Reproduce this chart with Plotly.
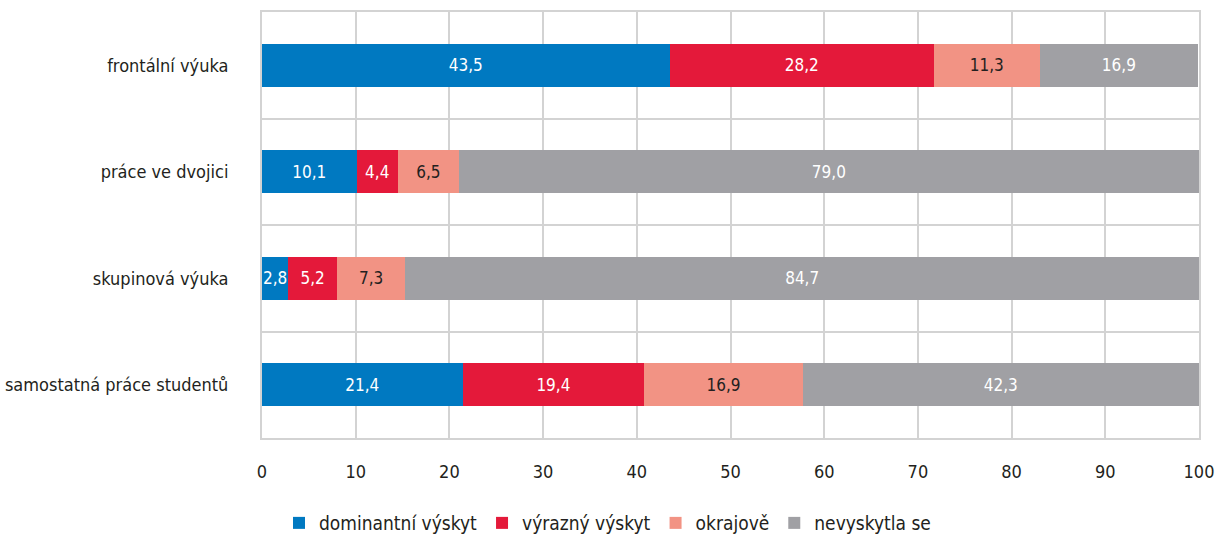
import plotly.graph_objects as go

categories = ["frontální výuka", "práce ve dvojici", "skupinová výuka", "samostatná práce studentů"]
series_names = ["dominantní výskyt", "výrazný výskyt", "okrajově", "nevyskytla se"]
dominantni = [43.5, 10.1, 2.8, 21.4]
vyrazny = [28.2, 4.4, 5.2, 19.4]
okrajove = [11.3, 6.5, 7.3, 16.9]
nevyskytla = [16.9, 79.0, 84.7, 42.3]
x_ticks = [0, 10, 20, 30, 40, 50, 60, 70, 80, 90, 100]

colors = ["#0079C1", "#E4193A", "#F29384", "#A0A0A4"]
text_colors = ["white", "white", "#231F20", "white"]
FONT = "DejaVu Sans Condensed, Liberation Sans Narrow, Arial Narrow, sans-serif"

fig = go.Figure()
for name, vals, c, tc in zip(series_names, [dominantni, vyrazny, okrajove, nevyskytla], colors, text_colors):
    fig.add_trace(go.Bar(
        y=categories, x=vals, name=name, orientation="h",
        marker=dict(color=c, line=dict(width=0)),
        texttemplate="%{x:.1f}", textposition="inside", insidetextanchor="middle",
        textangle=0,
        textfont=dict(color=tc, size=17, family=FONT),
        width=0.4,
    ))

fig.update_layout(
    barmode="stack",
    separators=", ",
    width=1215, height=540,
    margin=dict(l=262, r=16, t=12, b=102, autoexpand=False),
    paper_bgcolor="white", plot_bgcolor="white",
    font=dict(family=FONT, size=17, color="#231F20"),
    uniformtext=dict(minsize=17, mode="show"),
    showlegend=True,
    legend=dict(orientation="h", xref="container", x=0.5, xanchor="center", y=-0.155, yanchor="top",
                font=dict(size=19), traceorder="normal"),
    xaxis=dict(range=[0, 100], tickvals=x_ticks, showgrid=True, gridcolor="#D3D3D3", gridwidth=2,
               zeroline=False, showline=True, linecolor="#D3D3D3", linewidth=2, mirror=True,
               ticks="", ticklabelstandoff=16, tickfont=dict(size=18), automargin=False),
    yaxis=dict(autorange="reversed", tickson="boundaries", showgrid=True, gridcolor="#D3D3D3", gridwidth=2,
               ticks="", ticklabelstandoff=28, tickfont=dict(size=18),
               showline=True, linecolor="#D3D3D3", linewidth=2, mirror=True, automargin=False),
)

fig.write_html("out.html", config={"displayModeBar": False},
               post_script="document.body.style.margin='0px';document.body.style.overflow='hidden';")
